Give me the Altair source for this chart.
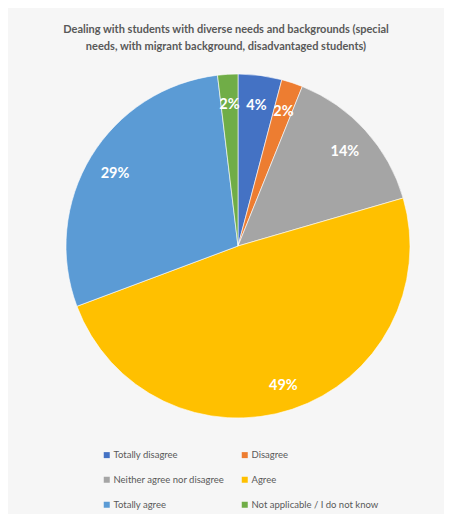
import altair as alt
import pandas as pd

categories = [
    "Totally disagree",
    "Disagree",
    "Neither agree nor disagree",
    "Agree",
    "Totally agree",
    "Not applicable / I do not know",
]
shares = [4.1, 2.0, 14.4, 48.8, 28.8, 1.9]
colors = ["#4472C4", "#ED7D31", "#A5A5A5", "#FFC000", "#5B9BD5", "#70AD47"]
title_lines = [
    "Dealing with students with diverse needs and backgrounds (special",
    "needs, with migrant background, disadvantaged students)",
]

df = pd.DataFrame({"category": categories, "share": shares, "order": list(range(len(categories)))})

W, H = 436, 506
CX, CY, R = 230, 238, 172

base = alt.Chart(df).encode(
    theta=alt.Theta("share:Q", stack=True),
    order=alt.Order("order:Q"),
)

pie = base.mark_arc(outerRadius=R, x=CX, y=CY, stroke="white", strokeWidth=0.6).encode(
    color=alt.Color(
        "category:N",
        sort=categories,
        scale=alt.Scale(domain=categories, range=colors),
        legend=alt.Legend(
            title=None,
            orient="none",
            direction="horizontal",
            legendX=94,
            legendY=442,
            columns=2,
            columnPadding=15,
            rowPadding=14,
            symbolType="square",
            symbolSize=36,
            symbolStrokeWidth=0,
            symbolOffset=0,
            labelOffset=2,
            labelFont="Lato",
            labelFontSize=9.5,
            labelColor="#595959",
            labelLimit=300,
        ),
    )
)

labels = base.transform_calculate(
    lab="format(datum.share, '.0f') + '%'"
).mark_text(
    radius=144, x=CX, y=CY + 3, font="Lato", fontSize=14.5, fontWeight="bold", color="white"
).encode(text="lab:N")

chart = alt.layer(pie, labels).properties(
    width=W,
    height=H,
    padding=0,
    autosize=alt.AutoSizeParams(type="none"),
    background="#f6f6f6",
    title=alt.TitleParams(
        text=title_lines,
        anchor="middle",
        font="Lato",
        fontSize=11,
        fontWeight="bold",
        color="#595959",
        lineHeight=17,
        orient="top",
        baseline="top",
        offset=0,
        dy=44,
    ),
).configure_view(stroke="#d9d9d9", strokeWidth=1)

chart.save("out.html", embed_options={"renderer": "svg", "actions": False})
